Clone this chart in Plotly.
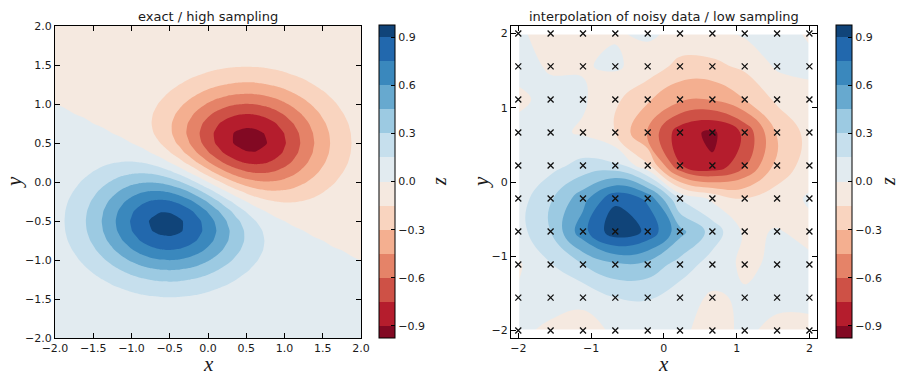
import plotly.graph_objects as go

# ---------------- data ----------------
# Left panel ("exact / high sampling"): cross-section profiles of the blue lobe,
# read along x (through y=-0.5) and along y (through x=-0.5); the red lobe is the
# point-mirror image of the blue lobe with opposite sign.
exact_x = [k / 8 for k in range(-16, 17)]
exact_y = [k / 8 for k in range(-16, 17)]
blue_lobe_x = [0.1054, 0.1510, 0.2096, 0.2821, 0.3679, 0.4650, 0.5698, 0.6766,
               0.7788, 0.8688, 0.9394, 0.9845, 1.0, 0.9845, 0.9394, 0.8688,
               0.7788, 0.6766, 0.5698, 0.4650, 0.3679, 0.2821, 0.2096, 0.1510,
               0.1054, 0.0713, 0.0468, 0.0297, 0.0183, 0.0109, 0.0063, 0.0036, 0.0019]
blue_lobe_y = [0.01111, 0.02280, 0.04394, 0.07956, 0.1353, 0.2163, 0.3247, 0.4578,
               0.6065, 0.7548, 0.8825, 0.9692, 1.0, 0.9692, 0.8825, 0.7548,
               0.6065, 0.4578, 0.3247, 0.2163, 0.1353, 0.07956, 0.04394, 0.02280,
               0.01111, 0.005086, 0.002188, 0.000884, 0.000335, 0.00012, 0.00004,
               0.0000126, 0.0000037]
red_lobe_x = blue_lobe_x[::-1]
red_lobe_y = blue_lobe_y[::-1]
z_exact = [[by * bx - ry * rx for bx, rx in zip(blue_lobe_x, red_lobe_x)]
           for by, ry in zip(blue_lobe_y, red_lobe_y)]

# Right panel: noisy samples on the 10 x 10 grid (rows: y from -2 to 2)
sample_x = [-2.0, -1.556, -1.111, -0.667, -0.222, 0.222, 0.667, 1.111, 1.556, 2.0]
sample_y = [-2.0, -1.556, -1.111, -0.667, -0.222, 0.222, 0.667, 1.111, 1.556, 2.0]
z_noisy = [
    [0.02, -0.02, -0.05, 0.02, 0.03, 0.02, -0.04, 0.02, -0.03, -0.02],
    [0.02, 0.04, 0.03, 0.15, 0.16, 0.06, -0.02, 0.02, 0.03, 0.02],
    [-0.02, 0.14, 0.30, 0.42, 0.40, 0.24, 0.08, -0.03, 0.03, 0.03],
    [0.09, 0.30, 0.70, 1.00, 0.875, 0.50, 0.24, -0.03, 0.01, -0.04],
    [0.08, 0.28, 0.54, 0.87, 0.72, 0.14, -0.03, -0.15, -0.08, 0.02],
    [0.03, 0.10, 0.20, 0.19, -0.12, -0.74, -0.88, -0.62, -0.25, -0.08],
    [0.03, 0.04, -0.02, -0.15, -0.47, -0.84, -0.93, -0.72, -0.28, -0.10],
    [-0.02, 0.03, 0.02, -0.12, -0.28, -0.42, -0.44, -0.30, -0.12, -0.03],
    [0.03, -0.01, -0.01, 0.02, -0.06, -0.20, -0.19, -0.12, 0.02, 0.02],
    [0.02, -0.05, -0.04, -0.01, 0.02, -0.03, -0.03, 0.02, 0.03, -0.01],
]

# contour levels and band colours (bottom band -> top band)
level_start, level_end, level_step = -0.9, 0.9, 0.15
band_colors = ["#820923", "#b51d2d", "#ce5146", "#e58368", "#f4af90", "#f9d4bf",
               "#f5e9e0", "#e2ebf0", "#c6dfed", "#9ccae2", "#67a9cf", "#3a88bd",
               "#2268ad", "#104479"]
cbar_ticks = [-0.9, -0.6, -0.3, 0.0, 0.3, 0.6, 0.9]
left_ticks = [-2.0, -1.5, -1.0, -0.5, 0.0, 0.5, 1.0, 1.5, 2.0]
right_ticks = [-2, -1, 0, 1, 2]

# ---------------- figure ----------------
W, H = 901, 378
nb = len(band_colors)
colorscale = [[k / (nb - 1), c] for k, c in enumerate(band_colors)]
TICKFONT = dict(family="DejaVu Sans", size=11, color="#1a1a1a")


def cbar(x_px):
    return dict(x=x_px / W, xanchor="left", xpad=0, thickness=16,
                len=313 / H, lenmode="fraction", y=(H - 181.5) / H, yanchor="middle", ypad=0,
                outlinewidth=1, outlinecolor="black", ticks="inside", ticklen=4,
                tickcolor="black", tickvals=cbar_ticks, tickformat=".1f",
                tickfont=TICKFONT)


contours = dict(start=level_start, end=level_end, size=level_step,
                coloring="fill", showlines=False)

fig = go.Figure()
fig.add_trace(go.Contour(x=exact_x, y=exact_y, z=z_exact, xaxis="x", yaxis="y",
                         contours=contours, autocontour=False,
                         line=dict(width=0, smoothing=0.6),
                         colorscale=colorscale, colorbar=cbar(379),
                         hoverinfo="skip"))
fig.add_trace(go.Contour(x=sample_x, y=sample_y, z=z_noisy, xaxis="x2", yaxis="y2",
                         contours=contours, autocontour=False,
                         line=dict(width=0, smoothing=1.2),
                         colorscale=colorscale, colorbar=cbar(836),
                         hoverinfo="skip"))
# white frame hiding anti-aliasing seams along the sampled region's border
x0, x1, y0, y1 = sample_x[0], sample_x[-1], sample_y[0], sample_y[-1]
fig.add_trace(go.Scatter(x=[x0, x1, x1, x0, x0], y=[y0, y0, y1, y1, y0],
                         mode="lines", xaxis="x2", yaxis="y2",
                         line=dict(color="white", width=2),
                         showlegend=False, hoverinfo="skip"))
fig.add_trace(go.Scatter(x=[sx for sy in sample_y for sx in sample_x],
                         y=[sy for sy in sample_y for sx in sample_x],
                         mode="markers", xaxis="x2", yaxis="y2",
                         marker=dict(symbol="x-thin", size=6,
                                     line=dict(width=1.3, color="#111")),
                         showlegend=False, hoverinfo="skip"))

axis_common = dict(showline=True, linecolor="black", linewidth=1, mirror="ticks",
                   ticks="inside", ticklen=5, tickcolor="black", showgrid=False,
                   zeroline=False, tickfont=TICKFONT, automargin=False)

ydom = [40 / H, 352 / H]
fig.update_layout(
    template="none",
    width=W, height=H, margin=dict(l=0, r=0, t=0, b=0, pad=0, autoexpand=False),
    paper_bgcolor="white", plot_bgcolor="white", showlegend=False,
    xaxis=dict(domain=[55 / W, 361 / W], range=[-2, 2], tickvals=left_ticks,
               tickformat=".1f", anchor="y", **axis_common),
    yaxis=dict(domain=ydom, range=[-2, 2], tickvals=left_ticks,
               tickformat=".1f", anchor="x", **axis_common),
    xaxis2=dict(domain=[511 / W, 816.7 / W], range=[-2.1, 2.1], tickvals=right_ticks,
                anchor="y2", **axis_common),
    yaxis2=dict(domain=ydom, range=[-2.1, 2.1], tickvals=right_ticks,
                anchor="x2", **axis_common),
)

TITLEFONT = dict(family="DejaVu Sans", size=13, color="#1a1a1a")
LABELFONT = dict(family="Liberation Serif", size=21, color="#1a1a1a")
ZFONT = dict(family="Liberation Serif", size=20, color="#1a1a1a")
ann = [
    dict(text="exact / high sampling", x=208 / W, y=(H - 16) / H, font=TITLEFONT),
    dict(text="interpolation of noisy data / low sampling", x=663.9 / W, y=(H - 16) / H,
         font=TITLEFONT),
    dict(text="<i>x</i>", x=208 / W, y=0.0, yanchor="bottom", font=LABELFONT),
    dict(text="<i>x</i>", x=663.9 / W, y=0.0, yanchor="bottom", font=LABELFONT),
    dict(text="<i>y</i>", x=14 / W, y=(H - 182) / H, font=LABELFONT, textangle=-90),
    dict(text="<i>y</i>", x=481 / W, y=(H - 182) / H, font=LABELFONT, textangle=-90),
    dict(text="<i>z</i>", x=439 / W, y=(H - 182) / H, font=ZFONT, textangle=-90),
    dict(text="<i>z</i>", x=888 / W, y=(H - 182) / H, font=ZFONT, textangle=-90),
]
for a in ann:
    a.setdefault("yanchor", "middle")
    a.update(xref="paper", yref="paper", showarrow=False, xanchor="center")
fig.update_layout(annotations=ann)

fig.write_html("out.html", config={"displayModeBar": False},
               post_script="document.body.style.margin='0';"
                           "document.body.style.padding='0';"
                           "document.body.style.overflow='hidden';")
